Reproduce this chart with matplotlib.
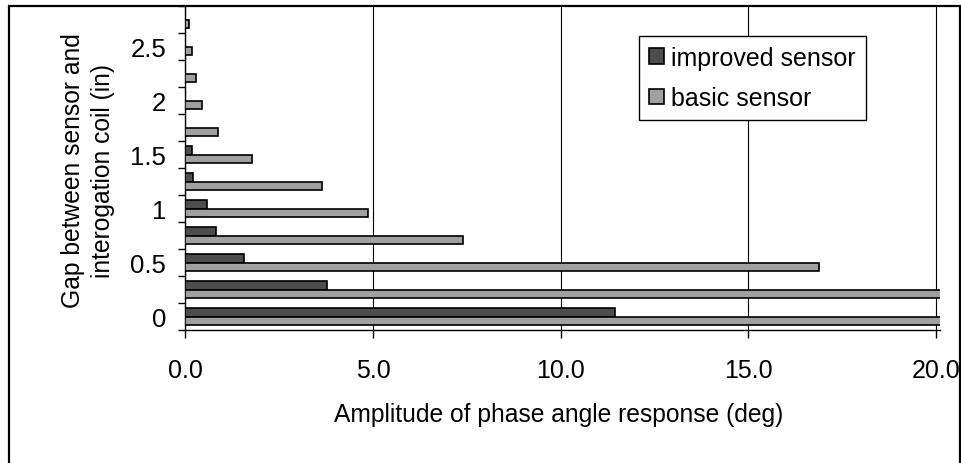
import numpy as np
import matplotlib
matplotlib.use("Agg")
import matplotlib.pyplot as plt
from matplotlib.patches import Rectangle

plt.rcParams['font.family'] = ['Liberation Sans', 'DejaVu Sans']

# gap between sensor and interrogation coil (in), one category per bar group
gaps = [0, 0.25, 0.5, 0.75, 1, 1.25, 1.5, 1.75, 2, 2.25, 2.5, 2.75]
gap_labels = ['0', '', '0.5', '', '1', '', '1.5', '', '2', '', '2.5', '']

# amplitude of phase angle response (deg)
improved = [11.45, 3.78, 1.56, 0.82, 0.56, 0.21, 0.16, None, None, None, None, None]
basic = [30.0, 22.0, 16.88, 7.4, 4.86, 3.63, 1.77, 0.86, 0.44, 0.27, 0.17, 0.10]

x_ticks = [0.0, 5.0, 10.0, 15.0, 20.0]

improved = np.array(improved, dtype=float)
basic = np.array(basic, dtype=float)
pos = np.arange(len(gaps))

W, H = 962, 464
fig = plt.figure(figsize=(W / 100, H / 100), dpi=100)
ax = fig.add_axes([185.5 / W, 1 - 331 / H, (939.8 - 185.5) / W, (331 - 7) / H])

fs = 17.7
bh = 0.3
ax.barh(pos + bh / 2, np.nan_to_num(improved), height=bh, color='#4d4d4d',
        edgecolor='black', linewidth=1.2, label='improved sensor', zorder=3)
ax.barh(pos - bh / 2, basic, height=bh, color='#a0a0a0',
        edgecolor='black', linewidth=1.2, label='basic sensor', zorder=3)
# hide the zero-width bars (no data)
for p, v in zip(ax.patches[:len(gaps)], improved):
    if np.isnan(v):
        p.set_visible(False)

ax.set_xlim(0, 20.1)
ax.set_ylim(-0.5, len(gaps) - 0.5)

ax.set_xticks(x_ticks)
ax.set_xticklabels(['%.1f' % v for v in x_ticks], fontsize=18)
ax.tick_params(axis='x', direction='out', length=6, width=1, pad=14)
ax.xaxis.grid(True, color='black', linewidth=0.8)
ax.set_axisbelow(True)

# ticks between categories, labels at category centres
ax.set_yticks(np.arange(-0.5, len(gaps), 1.0))
ax.set_yticklabels([])
ax.set_yticks(pos, minor=True)
ax.set_yticklabels(gap_labels, minor=True, fontsize=18.5)
ax.tick_params(axis='y', which='major', direction='out', length=5, width=1)
ax.tick_params(axis='y', which='minor', length=0, pad=14)

for s in ['top', 'right']:
    ax.spines[s].set_visible(False)
ax.spines['left'].set_linewidth(1)
ax.spines['bottom'].set_linewidth(1)

fig.text(88 / W, 1 - 171 / H, 'Gap between sensor and\ninterogation coil (in)',
         rotation=90, ha='center', va='center', multialignment='center',
         fontsize=fs, linespacing=1.3)
fig.text(559 / W, 1 - 415 / H, 'Amplitude of phase angle response (deg)',
         ha='center', va='center', fontsize=fs)

leg = ax.legend(loc='upper left', bbox_to_anchor=(639 / W, 1 - 37 / H),
                bbox_transform=fig.transFigure, fontsize=18, frameon=True,
                fancybox=False, framealpha=1, edgecolor='black',
                borderaxespad=0, handlelength=0.6, handleheight=0.6,
                handletextpad=0.3, borderpad=0.4, labelspacing=0.65)
leg.get_frame().set_linewidth(1)

# outer chart frame
fig.add_artist(Rectangle((9 / W, -0.05), (960 - 9) / W, 1.05 - 7 / H,
                         transform=fig.transFigure, fill=False,
                         edgecolor='black', linewidth=1.6))

fig.savefig('out.png', dpi=100)
